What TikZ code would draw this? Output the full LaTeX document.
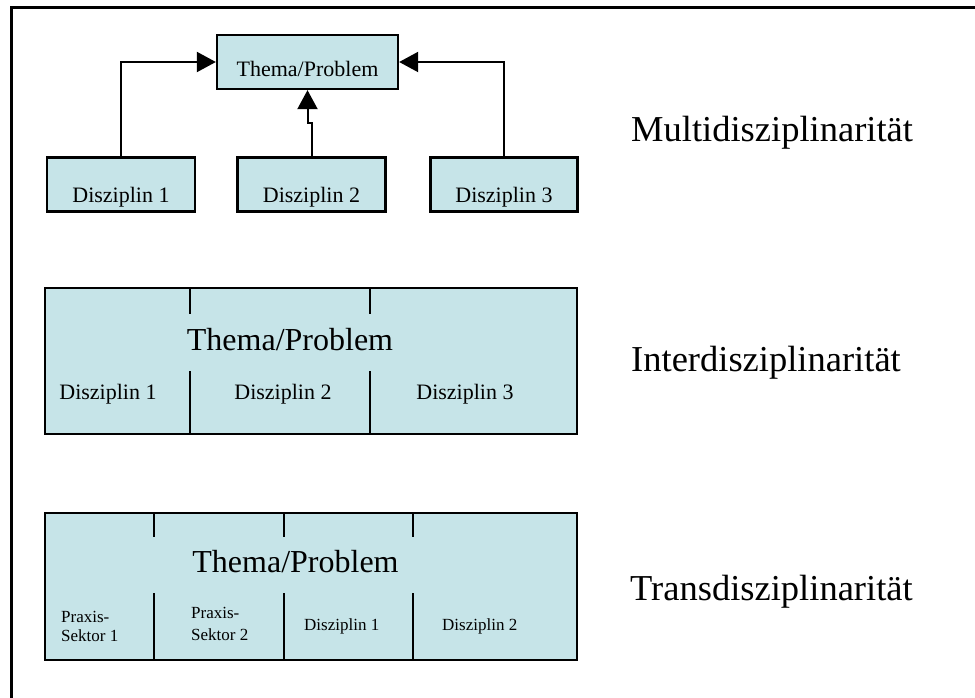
\documentclass[tikz,border=0pt]{standalone}
\usepackage{fontspec}
\setmainfont{Liberation Serif}
\usetikzlibrary{arrows.meta}
\definecolor{boxfill}{RGB}{198,228,232}
\begin{document}
\begin{tikzpicture}[x=1pt,y=-1pt,
  box/.style={draw=black, fill=boxfill, line width=2.3pt, inner sep=0pt, rectangle},
  arr/.style={line width=2pt, -{Triangle[length=19pt,width=20pt]}},
  divline/.style={line width=2pt},
  fsmall/.style={font=\fontsize{17}{20}\selectfont},
  fmid/.style={font=\fontsize{22}{26}\selectfont},
  fbig/.style={font=\fontsize{32}{38}\selectfont},
  fhuge/.style={font=\fontsize{36.5}{42}\selectfont},
  lbl/.style={anchor=base, inner sep=0pt},
  lblw/.style={anchor=base west, inner sep=0pt}]
\useasboundingbox (0,0) rectangle (975,698);
% frame (only left and top edges visible)
\draw[line width=3pt] (11.5,700) -- (11.5,7.5) -- (980,7.5);

% ---------- Multidisziplinaritaet ----------
\node[box, fmid, minimum width=181pt, minimum height=54pt, text height=30pt, text depth=0pt] (T) at (307.5,62) {Thema/Problem};
\node[box, fmid, minimum width=148pt, minimum height=54pt, text height=35.5pt, text depth=0pt] (D1) at (121,184.5) {Disziplin 1};
\node[box, fmid, minimum width=148pt, minimum height=54pt, text height=35.5pt, text depth=0pt] (D2) at (311.5,184.5) {Disziplin 2};
\node[box, fmid, minimum width=147pt, minimum height=54pt, text height=35.5pt, text depth=0pt] (D3) at (504,184.5) {Disziplin 3};
\draw[arr] (D1.north) |- (T.west);
\draw[arr] (D3.north) |- (T.east);
\draw[arr] (D2.north) -- ++(0,-33) -| (T.south);
\node[lblw, fhuge] (LM) at (631,141.7) {Multidisziplinarität};

% ---------- Interdisziplinaritaet ----------
\node[box, minimum width=532pt, minimum height=146pt] (I) at (311,361) {};
\draw[divline] (190,288) -- (190,314);
\draw[divline] (370,288) -- (370,314);
\draw[divline] (190,371) -- (190,434);
\draw[divline] (370,371) -- (370,434);
\node[lbl, fbig] (IT) at (290,350) {Thema/Problem};
\node[lbl, fmid] (I1) at (108,399) {Disziplin 1};
\node[lbl, fmid] (I2) at (283,399) {Disziplin 2};
\node[lbl, fmid] (I3) at (465,399) {Disziplin 3};
\node[lblw, fhuge] (LI) at (631,371.7) {Interdisziplinarität};

% ---------- Transdisziplinaritaet ----------
\node[box, minimum width=532pt, minimum height=147pt] (R) at (311,586.5) {};
\draw[divline] (154,513) -- (154,537);
\draw[divline] (284,513) -- (284,537);
\draw[divline] (413,513) -- (413,537);
\draw[divline] (154,593) -- (154,660);
\draw[divline] (284,593) -- (284,660);
\draw[divline] (413,593) -- (413,660);
\node[lbl, fbig] (RT) at (295.5,572) {Thema/Problem};
\node[lblw, fsmall] (P1a) at (61,622) {Praxis-};
\node[lblw, fsmall] (P1b) at (61,641) {Sektor 1};
\node[lblw, fsmall] (P2a) at (191,618.5) {Praxis-};
\node[lblw, fsmall] (P2b) at (191,640.5) {Sektor 2};
\node[lblw, fsmall] (R1) at (304,630) {Disziplin 1};
\node[lblw, fsmall] (R2) at (442,630) {Disziplin 2};
\node[lblw, fhuge] (LT) at (630,600) {Transdisziplinarität};
\end{tikzpicture}
\end{document}
